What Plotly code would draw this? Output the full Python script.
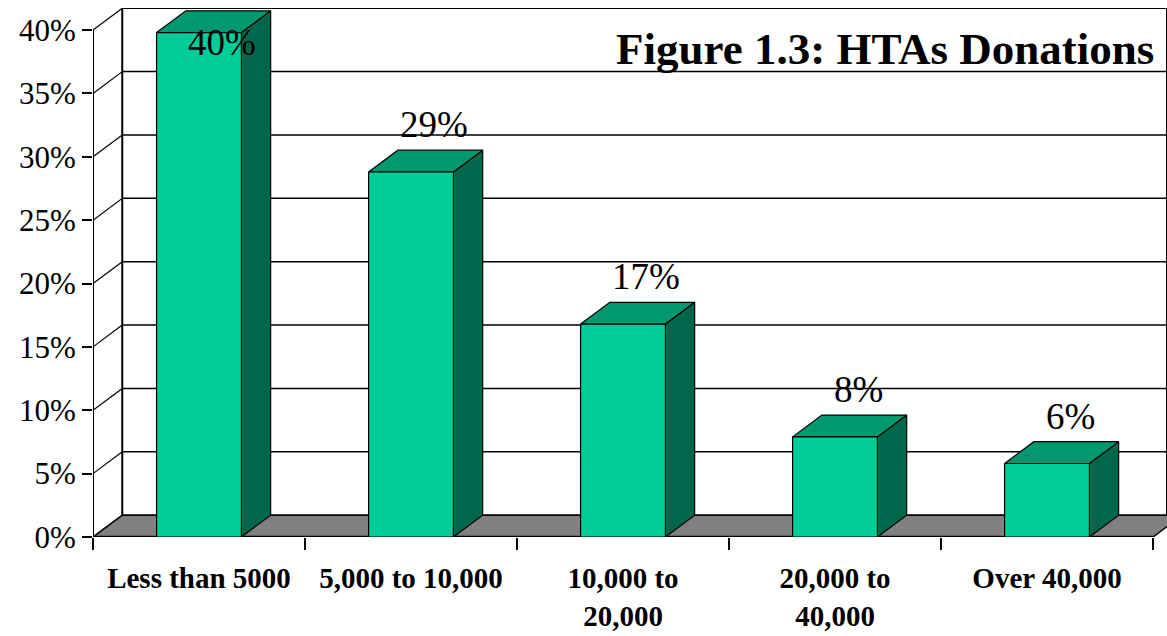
import plotly.graph_objects as go

categories = ["Less than 5000", "5,000 to 10,000", "10,000 to<br>20,000", "20,000 to<br>40,000", "Over 40,000"]
values = [39.8, 28.8, 16.8, 7.9, 5.8]
labels = ["40%", "29%", "17%", "8%", "6%"]
y_ticks = [0, 5, 10, 15, 20, 25, 30, 35, 40]

FRONT = "#00CC99"
TOP = "#00996F"
SIDE = "#00664C"
FLOOR = "#808080"
FONT = "Liberation Serif"

# 3D depth offsets (in axis units)
DX = 0.138
DY = 1.72
BAR_L = 0.30
BAR_W = 0.40
N = len(categories)
XMAX = 5.066
YMAX = 41.74

fig = go.Figure()

def poly(xs, ys, fill, lw=1.2, color="black"):
    fig.add_trace(go.Scatter(
        x=xs + [xs[0]], y=ys + [ys[0]], mode="lines",
        fill="toself" if fill else None, fillcolor=fill,
        line=dict(color=color, width=lw), hoverinfo="skip", showlegend=False))

def line(xs, ys, lw=1.5):
    fig.add_trace(go.Scatter(x=xs, y=ys, mode="lines",
                             line=dict(color="black", width=lw),
                             hoverinfo="skip", showlegend=False))

# back wall gridlines and side-wall diagonals
top = max(y_ticks)
for t in y_ticks:
    line([DX, XMAX + 1], [t + DY, t + DY], 1.5)
    line([0, DX], [t, t + DY], 1.2)
line([DX, DX], [DY, top + DY], 2)
line([0, 0], [0, top], 2)
line([XMAX, XMAX], [DY, top + DY], 2)

# floor
poly([0, N, N + DX, DX], [0, 0, DY, DY], FLOOR, 1.5)
line([0, N], [0, 0], 2.5)

# bars
for i, v in enumerate(values):
    x0 = i + BAR_L
    x1 = x0 + BAR_W
    poly([x1, x1 + DX, x1 + DX, x1], [0, DY, v + DY, v], SIDE, 1.2)
    poly([x0, x1, x1 + DX, x0 + DX], [v, v, v + DY, v + DY], TOP, 1.2)
    poly([x0, x1, x1, x0], [0, 0, v, v], FRONT, 1.2)

# value labels
for i, (v, lab) in enumerate(zip(values, labels)):
    ly = min(v + DY + 2.0, top - 1.0)
    fig.add_annotation(x=i + BAR_L + BAR_W / 2 + DX * 0.8, y=ly, xref="x", yref="y",
                       text=lab, showarrow=False, yanchor="middle",
                       font=dict(family=FONT, size=37, color="black"))

fig.add_annotation(x=0.99, y=0.922, xref="paper", yref="paper",
                   text="<b>Figure 1.3: HTAs Donations</b>", showarrow=False,
                   xanchor="right", yanchor="middle",
                   font=dict(family=FONT, size=45, color="black"))

fig.update_xaxes(
    range=[0, XMAX], showgrid=False, zeroline=False, showline=False,
    tickvals=[i + 0.5 for i in range(N)],
    ticktext=["<b>" + c.replace("<br>", "</b><br><b>") + "</b>" for c in categories],
    ticks="outside", ticklen=15, tickcolor="rgba(0,0,0,0)",
    tickfont=dict(family=FONT, size=29, color="black"),
    minor=dict(tick0=0, dtick=1, ticks="outside", ticklen=12, tickwidth=2,
               tickcolor="black", showgrid=False),
    automargin=False, fixedrange=True,
)
fig.update_yaxes(
    range=[0, YMAX], showgrid=False, zeroline=False, showline=False,
    tickvals=y_ticks, ticktext=[f"{t}%" for t in y_ticks],
    ticks="outside", ticklen=10, tickwidth=2, tickcolor="black",
    tickfont=dict(family=FONT, size=31, color="black"),
    automargin=False, fixedrange=True,
)
fig.update_layout(
    width=1167, height=636,
    margin=dict(l=93, r=0, t=8, b=99),
    paper_bgcolor="white", plot_bgcolor="white",
    showlegend=False,
)
fig.write_html("out.html", include_plotlyjs=True, config={"displayModeBar": False})
